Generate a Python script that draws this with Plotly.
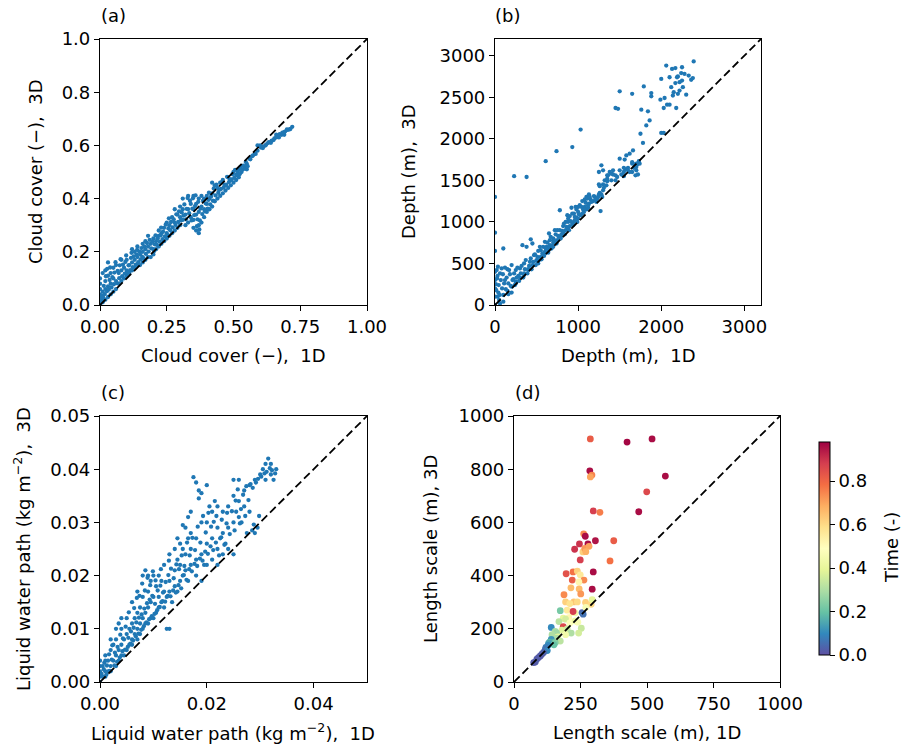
import plotly.graph_objects as go

# (a) cloud cover, 1D vs 3D
cloud_cover = [
    (0.00, 0.00), (0.00, 0.02), (0.00, 0.04), (0.00, 0.06), (0.00, 0.08), (0.00, 0.10),
    (0.005, 0.03), (0.01, 0.01), (0.01, 0.05), (0.01, 0.12), (0.015, 0.02), (0.02, 0.02),
    (0.02, 0.06), (0.02, 0.09), (0.02, 0.13), (0.03, 0.03), (0.03, 0.07), (0.03, 0.11),
    (0.03, 0.16), (0.04, 0.04), (0.04, 0.08), (0.04, 0.12), (0.05, 0.05), (0.05, 0.10),
    (0.05, 0.14), (0.06, 0.06), (0.06, 0.09), (0.06, 0.15), (0.07, 0.08), (0.07, 0.12),
    (0.08, 0.09), (0.08, 0.13), (0.08, 0.17), (0.09, 0.10), (0.09, 0.14), (0.10, 0.11),
    (0.10, 0.13), (0.10, 0.17), (0.11, 0.12), (0.11, 0.15), (0.12, 0.13), (0.12, 0.16),
    (0.12, 0.21), (0.13, 0.14), (0.13, 0.17), (0.13, 0.20), (0.14, 0.15), (0.14, 0.18),
    (0.14, 0.22), (0.15, 0.15), (0.15, 0.19), (0.16, 0.16), (0.16, 0.20), (0.16, 0.23),
    (0.17, 0.17), (0.17, 0.21), (0.17, 0.24), (0.18, 0.18), (0.18, 0.22), (0.18, 0.26),
    (0.19, 0.18), (0.19, 0.23), (0.20, 0.19), (0.20, 0.21), (0.20, 0.25), (0.21, 0.21),
    (0.21, 0.24), (0.22, 0.22), (0.22, 0.26), (0.22, 0.28), (0.23, 0.23), (0.23, 0.27),
    (0.24, 0.24), (0.24, 0.29), (0.25, 0.25), (0.25, 0.27), (0.25, 0.31), (0.26, 0.26),
    (0.26, 0.30), (0.27, 0.27), (0.27, 0.33), (0.28, 0.28), (0.28, 0.31), (0.28, 0.36),
    (0.29, 0.29), (0.29, 0.34), (0.30, 0.30), (0.30, 0.33), (0.30, 0.37), (0.31, 0.32),
    (0.31, 0.36), (0.31, 0.40), (0.32, 0.30), (0.32, 0.34), (0.33, 0.31), (0.33, 0.36),
    (0.33, 0.41), (0.34, 0.33), (0.34, 0.38), (0.35, 0.29), (0.35, 0.32), (0.35, 0.36),
    (0.35, 0.41), (0.36, 0.28), (0.36, 0.34), (0.36, 0.38), (0.37, 0.27), (0.37, 0.30),
    (0.37, 0.35), (0.37, 0.40), (0.38, 0.31), (0.38, 0.37), (0.38, 0.41), (0.39, 0.33),
    (0.39, 0.36), (0.39, 0.40), (0.40, 0.35), (0.40, 0.38), (0.40, 0.41), (0.41, 0.36),
    (0.41, 0.40), (0.42, 0.37), (0.42, 0.42), (0.42, 0.46), (0.43, 0.39), (0.43, 0.45),
    (0.44, 0.40), (0.44, 0.44), (0.45, 0.41), (0.45, 0.46), (0.46, 0.42), (0.46, 0.47),
    (0.47, 0.43), (0.47, 0.45), (0.48, 0.44), (0.48, 0.48), (0.49, 0.45), (0.49, 0.47),
    (0.50, 0.46), (0.50, 0.50), (0.51, 0.47), (0.51, 0.49), (0.52, 0.48), (0.52, 0.51),
    (0.53, 0.50), (0.54, 0.52), (0.55, 0.51), (0.55, 0.53), (0.56, 0.55), (0.57, 0.56),
    (0.58, 0.57), (0.59, 0.58), (0.59, 0.60), (0.60, 0.60), (0.61, 0.59), (0.62, 0.60),
    (0.63, 0.61), (0.64, 0.61), (0.65, 0.62), (0.66, 0.63), (0.66, 0.64), (0.67, 0.63),
    (0.68, 0.64), (0.69, 0.64), (0.69, 0.65), (0.70, 0.66), (0.71, 0.66), (0.72, 0.67),
    (0.003, 0.012), (0.006, 0.021), (0.008, 0.035), (0.012, 0.028), (0.014, 0.072),
    (0.018, 0.041), (0.022, 0.108), (0.026, 0.052), (0.027, 0.136), (0.033, 0.058),
    (0.036, 0.094), (0.038, 0.141), (0.043, 0.066), (0.046, 0.105), (0.052, 0.078),
    (0.054, 0.122), (0.058, 0.161), (0.063, 0.082), (0.066, 0.128), (0.072, 0.101),
    (0.074, 0.149), (0.077, 0.172), (0.083, 0.108), (0.086, 0.152), (0.093, 0.118),
    (0.095, 0.162), (0.098, 0.186), (0.104, 0.121), (0.107, 0.149), (0.113, 0.131),
    (0.116, 0.177), (0.118, 0.196), (0.123, 0.142), (0.126, 0.183), (0.134, 0.152),
    (0.137, 0.189), (0.139, 0.207), (0.143, 0.161), (0.147, 0.201), (0.152, 0.171),
    (0.155, 0.214), (0.158, 0.181), (0.163, 0.176), (0.166, 0.219), (0.172, 0.192),
    (0.176, 0.233), (0.182, 0.201), (0.186, 0.245), (0.192, 0.213), (0.196, 0.238),
    (0.203, 0.203), (0.205, 0.228), (0.208, 0.262), (0.213, 0.226), (0.216, 0.251),
    (0.224, 0.238), (0.227, 0.262), (0.229, 0.291), (0.234, 0.248), (0.236, 0.276),
    (0.243, 0.258), (0.246, 0.302), (0.253, 0.262), (0.256, 0.288), (0.258, 0.326),
    (0.263, 0.281), (0.266, 0.312), (0.272, 0.292), (0.276, 0.322), (0.283, 0.301),
    (0.286, 0.341), (0.293, 0.312), (0.296, 0.352), (0.303, 0.318), (0.306, 0.348),
    (0.313, 0.336), (0.316, 0.378), (0.322, 0.322), (0.325, 0.361), (0.328, 0.402),
    (0.334, 0.345), (0.337, 0.392), (0.343, 0.318), (0.346, 0.362), (0.348, 0.401),
    (0.353, 0.338), (0.356, 0.372), (0.358, 0.412), (0.363, 0.296), (0.365, 0.322),
    (0.368, 0.388), (0.372, 0.284), (0.374, 0.318), (0.376, 0.362), (0.383, 0.342),
    (0.386, 0.392), (0.393, 0.352), (0.396, 0.382), (0.403, 0.362), (0.406, 0.395),
    (0.408, 0.422), (0.413, 0.378), (0.416, 0.408), (0.423, 0.392), (0.426, 0.438),
    (0.433, 0.412), (0.436, 0.452), (0.443, 0.422), (0.446, 0.432), (0.453, 0.436),
    (0.456, 0.462), (0.463, 0.441), (0.466, 0.452), (0.473, 0.452), (0.476, 0.482),
    (0.483, 0.462), (0.486, 0.472), (0.493, 0.472), (0.496, 0.492), (0.503, 0.478),
    (0.506, 0.508), (0.513, 0.488), (0.516, 0.502), (0.523, 0.492), (0.526, 0.518),
    (0.533, 0.508), (0.536, 0.524), (0.543, 0.512), (0.546, 0.538), (0.553, 0.522),
    (0.563, 0.548), (0.573, 0.562), (0.583, 0.568), (0.603, 0.592), (0.613, 0.596),
    (0.623, 0.604), (0.633, 0.612), (0.643, 0.618), (0.653, 0.626), (0.663, 0.634),
    (0.673, 0.642), (0.683, 0.648), (0.693, 0.652), (0.703, 0.658), (0.713, 0.662),
]

# (b) cloud depth (m)
depth = [
    (0, 0), (0, 100), (0, 200), (0, 300), (0, 400), (0, 650), (0, 870), (0, 1300),
    (10, 250), (20, 420), (30, 350), (40, 150), (50, 60), (60, 380), (80, 440), (100, 680),
    (120, 450), (150, 430), (180, 370), (200, 480), (100, 120), (150, 170), (200, 220),
    (250, 280), (300, 330), (300, 440), (330, 720), (350, 380), (380, 700), (400, 430),
    (420, 520), (450, 480), (480, 610), (450, 740), (430, 790), (500, 540), (550, 580),
    (550, 660), (600, 640), (620, 700), (650, 690), (650, 860), (700, 750), (700, 800),
    (720, 900), (750, 780), (750, 900), (780, 1140), (800, 850), (820, 950), (850, 900),
    (850, 1000), (870, 1080), (900, 950), (900, 1070), (920, 1170), (950, 1000),
    (950, 1100), (980, 1050), (1000, 1120), (1020, 1200), (1050, 1100), (1050, 1250),
    (1080, 1180), (1100, 1150), (1100, 1300), (1130, 1220), (1150, 1270), (1180, 1250),
    (1200, 1300), (1220, 1240), (1250, 1330), (1270, 1130), (1230, 1280), (800, 830),
    (600, 620), (500, 530), (400, 420), (350, 360), (250, 260), (200, 150), (160, 130),
    (100, 40), (60, 20), (30, 100), (520, 500), (560, 550), (640, 650), (680, 680),
    (740, 760), (770, 820), (820, 870), (880, 930), (930, 980), (960, 1020), (1000, 1040),
    (1030, 1080), (1070, 1120), (1120, 1170), (700, 700), (880, 1000), (1000, 1180),
    (1130, 1330), (1080, 1270), (970, 1180), (600, 760), (660, 780), (540, 700), (280, 350),
    (350, 500), (220, 310), (250, 420), (120, 300),
    (15, 180), (25, 320), (35, 460), (45, 240), (55, 120), (70, 300), (85, 200), (95, 370),
    (110, 260), (130, 190), (140, 330), (160, 260), (170, 420), (190, 230), (210, 300),
    (230, 380), (240, 240), (260, 330), (270, 450), (290, 290), (310, 380), (320, 470),
    (340, 330), (360, 430), (370, 540), (390, 380), (410, 470), (430, 560), (440, 430),
    (460, 520), (470, 600), (490, 480), (510, 580), (520, 650), (530, 540), (570, 620),
    (580, 700), (590, 590), (610, 680), (630, 750), (640, 630), (660, 720), (670, 820),
    (690, 710), (710, 780), (730, 850), (740, 740), (760, 830), (780, 900), (790, 800),
    (810, 890), (830, 980), (840, 850), (860, 940), (880, 1040), (890, 900), (910, 1010),
    (930, 1100), (940, 960), (960, 1060), (980, 1150), (990, 1000), (1010, 1090),
    (1040, 1180), (1060, 1150), (1090, 1230), (1110, 1280), (1120, 1200), (1140, 1300),
    (1160, 1240), (1190, 1310), (1210, 1270), (1240, 1300), (1260, 1350), (1280, 1330),
    (1290, 1300), (1310, 1410), (1340, 1440), (1360, 1560), (1380, 1600), (1420, 1570),
    (1470, 1540), (1520, 1570), (1570, 1630), (1620, 1600), (1670, 1650), (1700, 1660),
    (1710, 1690), (1740, 1700),
    (1250, 1600), (1280, 1680), (1300, 1620), (1350, 1560), (1400, 1580), (1450, 1560),
    (1500, 1620), (1550, 1600), (1600, 1650), (1650, 1700), (1680, 1690), (1700, 1620),
    (1720, 1570), (1650, 1600), (1600, 1620), (1300, 1450), (1250, 1450), (1350, 1520),
    (1500, 1760), (1560, 1750), (1580, 1800), (1620, 1820), (1660, 1860), (1730, 1730),
    (1690, 1560), (1300, 1380), (1260, 1430), (1320, 1500), (1400, 1500), (1420, 1620),
    (1550, 1650), (1700, 1700), (1650, 1720), (1350, 1490), (1450, 1500), (1550, 1550),
    (230, 1550), (380, 1540), (610, 1730), (740, 1850), (930, 1900), (1030, 2110),
    (1450, 2370), (1480, 2360), (1500, 2570), (1650, 2540), (1760, 2350), (1790, 2630),
    (1840, 2330), (1880, 2550), (1880, 2510), (1860, 2220), (1820, 2160), (1750, 2060),
    (1780, 1950), (2000, 2070), (2030, 2070), (1990, 2470), (2040, 2490), (2030, 2370),
    (2070, 2410), (2100, 2410), (2180, 2370), (2300, 2530), (2200, 2540), (2150, 2560),
    (2220, 2580), (2060, 2880), (2130, 2840), (2170, 2850), (2250, 2860), (2390, 2930),
    (2000, 2720), (2100, 2740), (2200, 2750), (2280, 2780), (2330, 2760), (2360, 2710),
    (2380, 2730), (2220, 2680), (2250, 2700), (2170, 2670), (2120, 2620), (2260, 2620),
    (2140, 2520), (2190, 2740), (2240, 2790),
]

# (c) liquid water path (kg m-2)
lwp = [
    (0.0, 0.0), (0.0, 0.001), (0.0, 0.002), (0.0, 0.003), (0.0, 0.004), (0.0005, 0.001),
    (0.0005, 0.003), (0.001, 0.001), (0.001, 0.002), (0.001, 0.004), (0.001, 0.005),
    (0.0015, 0.002), (0.0015, 0.004), (0.002, 0.002), (0.002, 0.003), (0.002, 0.006),
    (0.002, 0.008), (0.0025, 0.004), (0.0025, 0.007), (0.003, 0.003), (0.003, 0.005),
    (0.003, 0.008), (0.003, 0.010), (0.0035, 0.004), (0.0035, 0.006), (0.0035, 0.011),
    (0.004, 0.005), (0.004, 0.007), (0.004, 0.010), (0.004, 0.012), (0.0045, 0.005),
    (0.0045, 0.008), (0.005, 0.006), (0.005, 0.009), (0.005, 0.012), (0.0055, 0.007),
    (0.0055, 0.010), (0.006, 0.007), (0.006, 0.008), (0.006, 0.011), (0.006, 0.015),
    (0.0065, 0.009), (0.0065, 0.012), (0.007, 0.008), (0.007, 0.010), (0.007, 0.013),
    (0.007, 0.017), (0.0075, 0.009), (0.0075, 0.011), (0.0075, 0.014), (0.008, 0.010),
    (0.008, 0.012), (0.008, 0.016), (0.008, 0.020), (0.0085, 0.011), (0.0085, 0.013),
    (0.0085, 0.021), (0.009, 0.011), (0.009, 0.014), (0.009, 0.017), (0.009, 0.020),
    (0.0095, 0.012), (0.0095, 0.015), (0.0095, 0.019), (0.010, 0.012), (0.010, 0.016),
    (0.010, 0.020), (0.0105, 0.013), (0.0105, 0.018), (0.011, 0.014), (0.011, 0.016),
    (0.011, 0.020), (0.0115, 0.015), (0.0115, 0.019), (0.012, 0.014), (0.012, 0.017),
    (0.012, 0.022), (0.0125, 0.010), (0.0125, 0.016), (0.013, 0.010), (0.013, 0.017),
    (0.013, 0.019), (0.013, 0.024), (0.0135, 0.015), (0.014, 0.018), (0.014, 0.021),
    (0.014, 0.025), (0.0145, 0.017), (0.0145, 0.023), (0.0145, 0.027), (0.015, 0.019),
    (0.015, 0.022), (0.015, 0.026), (0.0155, 0.020), (0.0155, 0.025), (0.0155, 0.0295),
    (0.016, 0.021), (0.016, 0.024), (0.016, 0.029), (0.0165, 0.019), (0.0165, 0.027),
    (0.0165, 0.031), (0.017, 0.022), (0.017, 0.025), (0.017, 0.028), (0.017, 0.032),
    (0.0175, 0.0385), (0.018, 0.020), (0.018, 0.023), (0.018, 0.027), (0.018, 0.0375),
    (0.0185, 0.036), (0.0185, 0.0345), (0.019, 0.019), (0.019, 0.024), (0.019, 0.030),
    (0.019, 0.0355), (0.0195, 0.022), (0.020, 0.022), (0.020, 0.026), (0.020, 0.030),
    (0.020, 0.037), (0.0205, 0.033), (0.021, 0.023), (0.021, 0.027), (0.021, 0.032),
    (0.0215, 0.034), (0.022, 0.022), (0.022, 0.025), (0.022, 0.029), (0.022, 0.033),
    (0.0225, 0.027), (0.023, 0.024), (0.023, 0.028), (0.023, 0.032), (0.0235, 0.026),
    (0.024, 0.025), (0.024, 0.029), (0.024, 0.033), (0.025, 0.024), (0.025, 0.030),
    (0.025, 0.035), (0.025, 0.038), (0.0255, 0.032), (0.026, 0.031), (0.026, 0.034),
    (0.026, 0.038), (0.0265, 0.030), (0.027, 0.033), (0.027, 0.036), (0.0275, 0.028),
    (0.028, 0.032), (0.028, 0.037), (0.029, 0.028), (0.029, 0.038), (0.0295, 0.029),
    (0.030, 0.039), (0.0305, 0.040), (0.031, 0.038), (0.031, 0.041), (0.0315, 0.042),
    (0.032, 0.039), (0.032, 0.041), (0.0325, 0.038), (0.033, 0.040),
    (0.0003, 0.0015), (0.0007, 0.0024), (0.0008, 0.0036), (0.0012, 0.0014), (0.0013, 0.0031),
    (0.0017, 0.0052), (0.0018, 0.0021), (0.0022, 0.0042), (0.0023, 0.0069), (0.0027, 0.0031),
    (0.0028, 0.0055), (0.0032, 0.0038), (0.0033, 0.0066), (0.0037, 0.0046), (0.0038, 0.0089),
    (0.0042, 0.0058), (0.0043, 0.0082), (0.0047, 0.0061), (0.0048, 0.0104), (0.0052, 0.0066),
    (0.0053, 0.0083), (0.0054, 0.0131), (0.0057, 0.0072), (0.0058, 0.0095), (0.0062, 0.0078),
    (0.0063, 0.0102), (0.0064, 0.0139), (0.0067, 0.0086), (0.0068, 0.0112), (0.0069, 0.0158),
    (0.0072, 0.0091), (0.0073, 0.0121), (0.0074, 0.0162), (0.0077, 0.0098), (0.0078, 0.0127),
    (0.0079, 0.0185), (0.0082, 0.0105), (0.0083, 0.0138), (0.0084, 0.0172), (0.0087, 0.0112),
    (0.0088, 0.0148), (0.0089, 0.0196), (0.0092, 0.0118), (0.0093, 0.0155), (0.0094, 0.0182),
    (0.0097, 0.0124), (0.0098, 0.0162), (0.0099, 0.0208), (0.0102, 0.0128), (0.0103, 0.0147),
    (0.0104, 0.0191), (0.0107, 0.0135), (0.0108, 0.0172), (0.0112, 0.0141), (0.0113, 0.0181),
    (0.0114, 0.0212), (0.0117, 0.0152), (0.0118, 0.0168), (0.0122, 0.0151), (0.0123, 0.0188),
    (0.0127, 0.0162), (0.0128, 0.0201), (0.0129, 0.0228), (0.0132, 0.0161), (0.0133, 0.0213),
    (0.0137, 0.0172), (0.0138, 0.0195), (0.0142, 0.0168), (0.0143, 0.0221), (0.0147, 0.0182),
    (0.0148, 0.0212), (0.0152, 0.0176), (0.0153, 0.0238), (0.0157, 0.0201), (0.0158, 0.0218),
    (0.0162, 0.0192), (0.0163, 0.0262), (0.0167, 0.0212), (0.0168, 0.0238), (0.0172, 0.0208),
    (0.0173, 0.0271), (0.0177, 0.0222), (0.0178, 0.0248), (0.0182, 0.0218), (0.0183, 0.0292),
    (0.0187, 0.0232), (0.0188, 0.0262), (0.0192, 0.0228), (0.0193, 0.0312), (0.0197, 0.0245),
    (0.0198, 0.0281), (0.0202, 0.0241), (0.0203, 0.0318), (0.0207, 0.0255), (0.0208, 0.0292),
    (0.0212, 0.0248), (0.0213, 0.0301), (0.0217, 0.0262), (0.0218, 0.0312), (0.0223, 0.0238),
    (0.0227, 0.0272), (0.0228, 0.0305), (0.0233, 0.0258), (0.0237, 0.0298), (0.0238, 0.0318),
    (0.0243, 0.0278), (0.0247, 0.0321), (0.0252, 0.0285), (0.0254, 0.0341), (0.0258, 0.0362),
    (0.0262, 0.0298), (0.0264, 0.0325), (0.0268, 0.0352), (0.0272, 0.0312), (0.0274, 0.0368),
    (0.0278, 0.0342), (0.0282, 0.0372), (0.0286, 0.0365), (0.0288, 0.0296), (0.0292, 0.0375),
    (0.0296, 0.0382), (0.0302, 0.0386), (0.0308, 0.0392), (0.0312, 0.0395), (0.0318, 0.0402),
    (0.0322, 0.0398), (0.0328, 0.0392), (0.0298, 0.0312), (0.0285, 0.0285),
]

# (d) length scale (m), coloured by normalised time
length_scale = [
    (287, 914, 0.82), (425, 902, 0.97), (519, 914, 0.96), (285, 794, 0.96), (293, 778, 0.75),
    (287, 771, 0.70), (569, 774, 0.96), (499, 715, 0.86), (469, 640, 0.96), (298, 643, 0.88),
    (323, 638, 0.76), (262, 557, 0.74), (268, 548, 0.96), (306, 531, 0.95), (375, 531, 0.82),
    (246, 519, 0.90), (278, 519, 0.96), (228, 499, 0.90), (259, 489, 0.62), (266, 502, 0.72),
    (282, 510, 0.70), (270, 490, 0.68), (249, 459, 0.88), (361, 455, 0.78), (298, 414, 0.96),
    (196, 407, 0.84), (222, 414, 0.78), (238, 417, 0.62), (249, 403, 0.56), (219, 383, 0.82),
    (263, 383, 0.74), (244, 376, 0.52), (214, 354, 0.66), (245, 350, 0.66), (294, 349, 0.96),
    (188, 328, 0.74), (251, 331, 0.72), (194, 301, 0.62), (225, 301, 0.64), (238, 301, 0.60),
    (269, 299, 0.62), (210, 295, 0.58), (290, 292, 0.60), (294, 310, 0.40), (174, 268, 0.22),
    (200, 270, 0.56), (219, 261, 0.50), (230, 260, 0.44), (256, 261, 0.04), (222, 265, 0.88),
    (270, 280, 0.46), (260, 255, 0.06), (206, 242, 0.52), (185, 240, 0.40), (194, 236, 0.36),
    (169, 227, 0.32), (210, 222, 0.48), (230, 230, 0.42), (240, 225, 0.46), (140, 205, 0.10),
    (185, 208, 0.86), (253, 202, 0.34), (200, 200, 0.34), (180, 195, 0.38), (155, 190, 0.30),
    (160, 185, 0.28), (243, 184, 0.36), (215, 184, 0.30), (194, 178, 0.44), (143, 178, 0.30),
    (165, 170, 0.40), (161, 165, 0.30), (140, 160, 0.12), (174, 154, 0.32), (134, 150, 0.18),
    (145, 150, 0.16), (155, 148, 0.24), (130, 145, 0.14), (150, 140, 0.20), (128, 138, 0.10),
    (120, 130, 0.08), (118, 123, 0.06), (125, 118, 0.10), (111, 111, 0.04), (105, 105, 0.03),
    (99, 98, 0.02), (92, 92, 0.02), (86, 86, 0.02), (80, 75, 0.03), (74, 73, 0.02),
]

cc_1d, cc_3d = zip(*cloud_cover)
dep_1d, dep_3d = zip(*depth)
lwp_1d, lwp_3d = zip(*lwp)
ls_1d, ls_3d, ls_time = zip(*length_scale)

W, H = 901, 745
FONT = "DejaVu Sans"
FS = 18
BLUE = "#1f77b4"


def px_x(p):
    return p / W


def px_y(p):
    return 1 - p / H


# axes boxes in pixels: (left, right, top, bottom)
boxes = {
    "a": (100, 367, 39, 305),
    "b": (495, 761, 39, 305),
    "c": (100, 367, 416, 682),
    "d": (514, 780, 416, 682),
}

fig = go.Figure()

panels = [
    ("a", cc_1d, cc_3d, 1.0),
    ("b", dep_1d, dep_3d, 3200),
    ("c", lwp_1d, lwp_3d, 0.05),
]
for i, (key, xs, ys, top) in enumerate(panels):
    ax = "" if i == 0 else str(i + 1)
    fig.add_trace(go.Scatter(
        x=xs, y=ys, mode="markers", xaxis="x" + ax, yaxis="y" + ax,
        marker=dict(size=4.3, color=BLUE, line=dict(width=0)), showlegend=False,
    ))
    fig.add_trace(go.Scatter(
        x=[0, top], y=[0, top], mode="lines", xaxis="x" + ax, yaxis="y" + ax,
        line=dict(color="black", width=1.8, dash="8px,4px"), showlegend=False,
    ))

fig.add_trace(go.Scatter(
    x=ls_1d, y=ls_3d, mode="markers", xaxis="x4", yaxis="y4",
    marker=dict(
        size=6.8, color=ls_time, colorscale="Spectral_r", cmin=0, cmax=0.98,
        line=dict(width=0),
        colorbar=dict(
            x=px_x(819), xanchor="left", xpad=0, y=px_y(548.5), yanchor="middle",
            ypad=0,
            thickness=11, thicknessmode="pixels", len=213, lenmode="pixels",
            outlinewidth=1, outlinecolor="black",
            tickvals=[0, 0.2, 0.4, 0.6, 0.8], ticktext=["0.0", "0.2", "0.4", "0.6", "0.8"],
            ticks="outside", ticklen=5, tickwidth=1.2, tickcolor="black",
            tickfont=dict(family=FONT, size=FS, color="black"),
        ),
    ),
    showlegend=False,
))
fig.add_trace(go.Scatter(
    x=[0, 1000], y=[0, 1000], mode="lines", xaxis="x4", yaxis="y4",
    line=dict(color="black", width=1.8, dash="8px,4px"), showlegend=False,
))

axis_style = dict(
    showgrid=False, zeroline=False, showline=True, linecolor="black", linewidth=1.2,
    mirror=True, ticks="outside", ticklen=5, tickwidth=1.2, tickcolor="black",
    tickfont=dict(family=FONT, size=FS, color="black"), automargin=False,
)

ticks = {
    "a": dict(x=([0, 0.25, 0.5, 0.75, 1.0], ["0.00", "0.25", "0.50", "0.75", "1.00"], 1.0),
              y=([0, 0.2, 0.4, 0.6, 0.8, 1.0], ["0.0", "0.2", "0.4", "0.6", "0.8", "1.0"], 1.0)),
    "b": dict(x=([0, 1000, 2000, 3000], ["0", "1000", "2000", "3000"], 3200),
              y=([0, 500, 1000, 1500, 2000, 2500, 3000],
                 ["0", "500", "1000", "1500", "2000", "2500", "3000"], 3200)),
    "c": dict(x=([0, 0.02, 0.04], ["0.00", "0.02", "0.04"], 0.05),
              y=([0, 0.01, 0.02, 0.03, 0.04, 0.05],
                 ["0.00", "0.01", "0.02", "0.03", "0.04", "0.05"], 0.05)),
    "d": dict(x=([0, 250, 500, 750, 1000], ["0", "250", "500", "750", "1000"], 1000),
              y=([0, 200, 400, 600, 800, 1000], ["0", "200", "400", "600", "800", "1000"], 1000)),
}

layout = dict(
    width=W, height=H, autosize=False,
    margin=dict(l=0, r=0, t=0, b=0, pad=0, autoexpand=False),
    paper_bgcolor="white", plot_bgcolor="white",
    font=dict(family=FONT, size=FS, color="black"),
)
for i, key in enumerate(["a", "b", "c", "d"]):
    sfx = "" if i == 0 else str(i + 1)
    left, right, top, bottom = boxes[key]
    tx, ttx, rx = ticks[key]["x"]
    ty, tty, ry = ticks[key]["y"]
    layout["xaxis" + sfx] = dict(
        axis_style, domain=[px_x(left), px_x(right)], range=[0, rx],
        tickvals=tx, ticktext=ttx, anchor="y" + sfx,
    )
    layout["yaxis" + sfx] = dict(
        axis_style, domain=[px_y(bottom), px_y(top)], range=[0, ry],
        tickvals=ty, ticktext=tty, anchor="x" + sfx,
    )
fig.update_layout(**layout)

# axis titles and panel letters
texts = [
    ("(a)", 114, 16, 0),
    ("(b)", 508, 16, 0),
    ("(c)", 113, 393, 0),
    ("(d)", 527, 393, 0),
    ("Cloud cover (\u2212),  1D", 233, 355, 0),
    ("Cloud cover (\u2212),  3D", 35, 172, -90),
    ("Depth (m),  1D", 628, 355, 0),
    ("Depth (m),  3D", 408, 172, -90),
    ("Liquid water path (kg m<sup>\u22122</sup>),  1D", 233, 732, 0),
    ("Liquid water path (kg m<sup>\u22122</sup>),  3D", 22, 549, -90),
    ("Length scale (m), 1D", 647, 732, 0),
    ("Length scale (m), 3D", 430, 549, -90),
    ("Time (-)", 891, 548, -90),
]
for txt, x, y, ang in texts:
    fig.add_annotation(
        text=txt, x=px_x(x), y=px_y(y), xref="paper", yref="paper",
        xanchor="center", yanchor="middle", showarrow=False, textangle=ang,
        font=dict(family=FONT, size=FS, color="black"),
    )

# the page body has a default margin; remove it so the figure sits at the top-left corner
fig.write_html(
    "out.html",
    config={"displayModeBar": False},
    post_script="document.body.style.margin = '0px';",
)
